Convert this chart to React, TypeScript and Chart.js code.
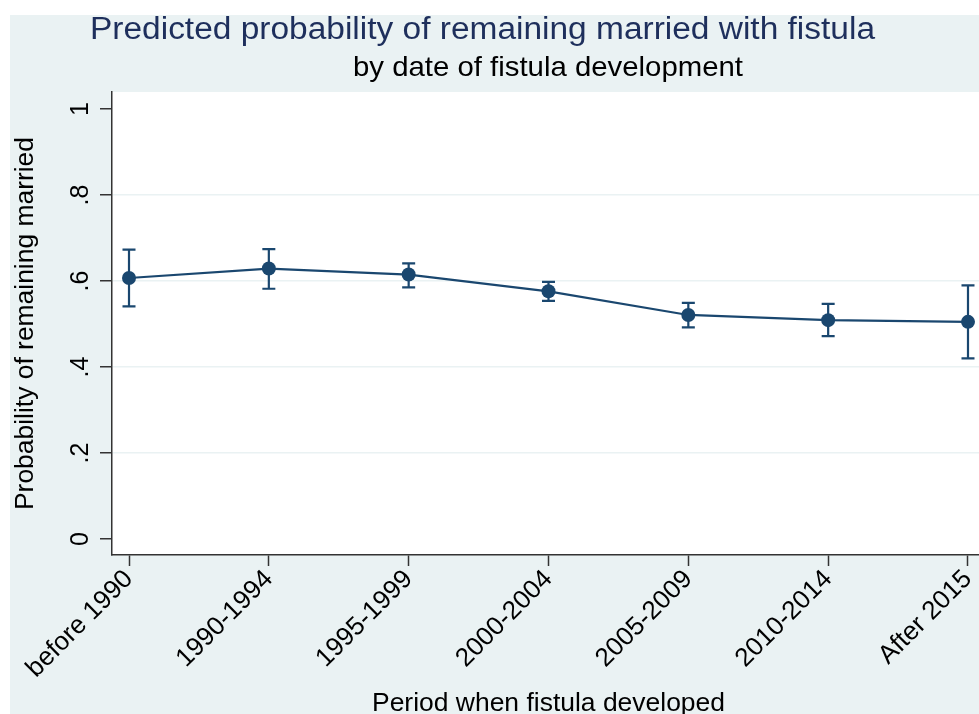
import React, { useEffect, useRef } from "react";
import { Chart, registerables } from "chart.js";

Chart.register(...registerables);

const categories = ["before 1990", "1990-1994", "1995-1999", "2000-2004", "2005-2009", "2010-2014", "After 2015"];
const probs = [0.607, 0.629, 0.615, 0.576, 0.521, 0.509, 0.505];
const lower = [0.541, 0.582, 0.585, 0.554, 0.492, 0.472, 0.42];
const upper = [0.673, 0.674, 0.641, 0.598, 0.549, 0.547, 0.59];
const yTicks = [0, 0.2, 0.4, 0.6, 0.8, 1];
const yTickLabels = ["0", ".2", ".4", ".6", ".8", "1"];

const titleText = "Predicted probability of remaining married with fistula";
const subtitleText = "by date of fistula development";
const xTitle = "Period when fistula developed";
const yTitle = "Probability of remaining married";

const NAVY = "#1a476f";
const BG = "#eaf2f3";
const AXIS = "#333333";
const FONT = '"Liberation Sans", Arial, sans-serif';

function drawText(
  ctx: CanvasRenderingContext2D,
  text: string,
  x: number,
  y: number,
  o: { size: number; color: string; align: CanvasTextAlign; baseline: CanvasTextBaseline; rot?: number; width?: number }
) {
  ctx.save();
  ctx.font = `${o.size}px ${FONT}`;
  ctx.fillStyle = o.color;
  ctx.textAlign = o.align;
  ctx.textBaseline = o.baseline;
  ctx.translate(x, y);
  if (o.rot) ctx.rotate(o.rot);
  if (o.width) {
    const w = ctx.measureText(text).width;
    ctx.scale(o.width / w, 1);
  }
  ctx.fillText(text, 0, 0);
  ctx.restore();
}

const decorPlugin = {
  id: "decor",
  beforeDraw(chart: any) {
    const { ctx, chartArea } = chart;
    ctx.save();
    ctx.fillStyle = "#ffffff";
    ctx.fillRect(0, 0, chart.width, chart.height);
    ctx.fillStyle = BG;
    ctx.fillRect(10, 15, chart.width - 10, chart.height - 15);
    ctx.fillStyle = "#ffffff";
    ctx.fillRect(chartArea.left, chartArea.top, chart.width - chartArea.left, chartArea.bottom - chartArea.top);
    ctx.restore();
  },
  beforeDatasetsDraw(chart: any) {
    const { ctx } = chart;
    const xs = chart.scales.x;
    const ys = chart.scales.y;
    ctx.save();
    ctx.strokeStyle = NAVY;
    ctx.lineWidth = 2.2;
    for (let i = 0; i < categories.length; i++) {
      const x = xs.getPixelForValue(i);
      const yl = ys.getPixelForValue(lower[i]);
      const yu = ys.getPixelForValue(upper[i]);
      ctx.beginPath();
      ctx.moveTo(x, yl);
      ctx.lineTo(x, yu);
      ctx.moveTo(x - 6.5, yl);
      ctx.lineTo(x + 6.5, yl);
      ctx.moveTo(x - 6.5, yu);
      ctx.lineTo(x + 6.5, yu);
      ctx.stroke();
    }
    ctx.restore();
  },
  afterDraw(chart: any) {
    const { ctx, chartArea } = chart;
    const xs = chart.scales.x;
    const ys = chart.scales.y;
    const plotCy = (chartArea.top + chartArea.bottom) / 2;
    drawText(ctx, titleText, 482.5, 38.5, { size: 31, color: "#1e2f5c", align: "center", baseline: "alphabetic", width: 785 });
    drawText(ctx, subtitleText, 548, 75.5, { size: 28, color: "#000", align: "center", baseline: "alphabetic", width: 390 });
    drawText(ctx, xTitle, 548.5, 711, { size: 26, color: "#000", align: "center", baseline: "alphabetic", width: 353 });
    drawText(ctx, yTitle, 33, plotCy, { size: 26, color: "#000", align: "center", baseline: "alphabetic", rot: -Math.PI / 2, width: 373 });
    for (let i = 0; i < yTicks.length; i++) {
      const y = ys.getPixelForValue(yTicks[i]);
      drawText(ctx, yTickLabels[i], 88, y, { size: 25, color: "#000", align: "center", baseline: "alphabetic", rot: -Math.PI / 2 });
    }
    for (let i = 0; i < categories.length; i++) {
      const x = xs.getPixelForValue(i);
      drawText(ctx, categories[i], x, chartArea.bottom + 20, { size: 26, color: "#000", align: "right", baseline: "middle", rot: -Math.PI / 4 });
    }
  },
};

export default function App() {
  const ref = useRef<HTMLCanvasElement | null>(null);
  useEffect(() => {
    if (!ref.current) return;
    const chart = new Chart(ref.current, {
      type: "line",
      data: {
        datasets: [
          {
            label: "Predicted probability",
            data: probs.map((v, i) => ({ x: i, y: v })),
            borderColor: NAVY,
            backgroundColor: NAVY,
            borderWidth: 2.2,
            pointRadius: 7,
            pointBackgroundColor: NAVY,
            pointBorderWidth: 0,
            pointHoverRadius: 7,
            tension: 0,
            clip: false as any,
          },
        ],
      },
      options: {
        responsive: false,
        animation: false,
        layout: { autoPadding: false, padding: { left: 100, right: 0, top: 92, bottom: 148 } },
        plugins: {
          legend: { display: false },
          title: { display: false },
          tooltip: { enabled: false },
        },
        scales: {
          x: {
            type: "linear",
            position: "bottom",
            min: -0.1216,
            max: 6.0787,
            afterBuildTicks: (axis: any) => {
              axis.ticks = categories.map((_, i) => ({ value: i }));
            },
            ticks: { display: false },
            grid: {
              drawOnChartArea: false,
              drawTicks: true,
              tickLength: 11,
              tickColor: AXIS,
              tickWidth: 1.5,
            },
            border: { display: true, color: AXIS, width: 1.5 },
          },
          y: {
            type: "linear",
            position: "left",
            min: -0.0373,
            max: 1.0396,
            afterBuildTicks: (axis: any) => {
              axis.ticks = yTicks.map((v) => ({ value: v }));
            },
            ticks: { display: false },
            grid: {
              drawOnChartArea: true,
              drawTicks: true,
              tickLength: 12,
              tickColor: AXIS,
              tickWidth: 1.5,
              lineWidth: 1.5,
              color: (c: any) => (c.tick && (c.tick.value === 0 || c.tick.value === 1) ? "rgba(0,0,0,0)" : BG),
            },
            border: { display: true, color: AXIS, width: 1.5 },
          },
        },
      },
      plugins: [decorPlugin],
    });
    return () => chart.destroy();
  }, []);
  return (
    <div style={{ position: "fixed", left: 0, top: 0, width: 979, height: 714 }}>
      <canvas ref={ref} width={979} height={714} style={{ display: "block" }} />
    </div>
  );
}
